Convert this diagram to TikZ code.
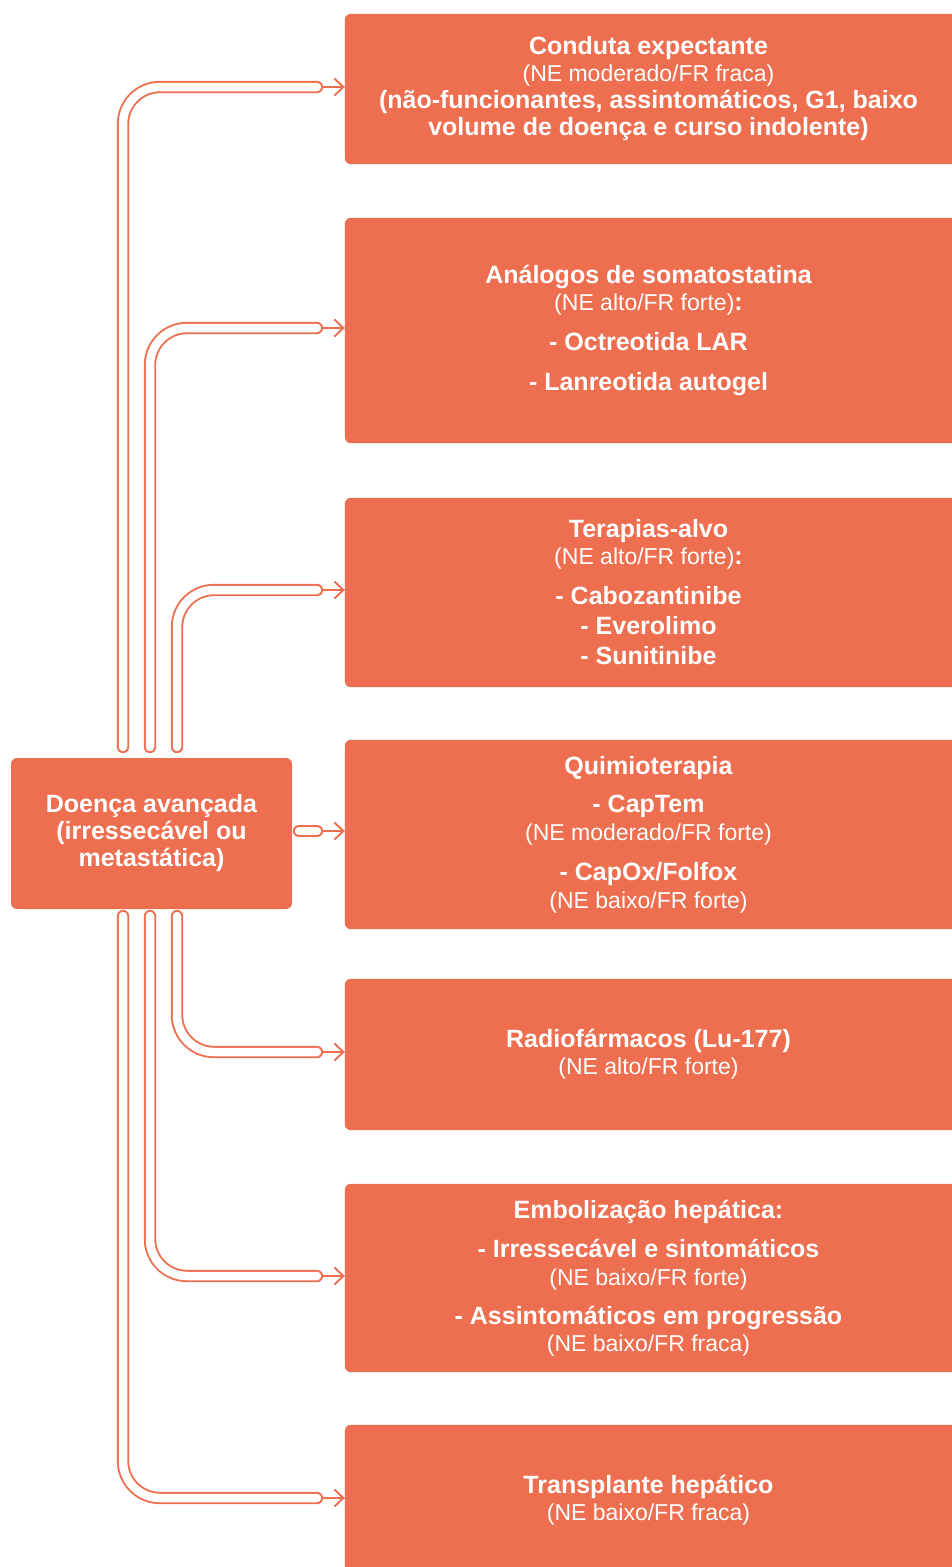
\documentclass[tikz,border=0pt]{standalone}
\usepackage{fontspec}
\setmainfont{Liberation Sans}
\usetikzlibrary{arrows.meta,backgrounds}
\definecolor{accent}{RGB}{238,110,80}
\newcommand{\rg}[1]{{\mdseries\fontsize{23}{27}\selectfont #1}}
\begin{document}
\begin{tikzpicture}[x=1pt,y=-1pt,
  boxtext/.style={minimum width=607pt, align=center, text=white, inner sep=0pt,
    font=\bfseries\fontsize{25}{27}\selectfont},
  leftbox/.style={fill=accent, rounded corners=6pt, minimum width=281pt, minimum height=151pt,
    align=center, text=white, inner sep=0pt, font=\bfseries\fontsize{25}{27}\selectfont},
  tube/.style={draw=accent, line width=1.9pt, double=white, double distance=8.5pt,
    line cap=round, rounded corners=37pt},
  arr/.style={draw=accent, line width=1.9pt, -{Straight Barb[length=9pt,width=17pt]}}]
\path[use as bounding box] (0,0) rectangle (952,1567);
\clip (0,0) rectangle (952,1567);

% boxes
\node[boxtext, minimum height=150pt] (b1) at (648.5,89) {Conduta expectante\\ \rg{(NE moderado/FR fraca)}\\ (não-funcionantes, assintomáticos, G1, baixo\\ volume de doença e curso indolente)};
\node[boxtext, minimum height=225pt] (b2) at (648.5,330.5) {Análogos de somatostatina\\ \rg{(NE alto/FR forte)}:\\[13pt] - Octreotida LAR\\[13pt] - Lanreotida autogel};
\node[boxtext, minimum height=189pt] (b3) at (648.5,592.5) {Terapias-alvo\\ \rg{(NE alto/FR forte)}:\\[13pt] - Cabozantinibe\\[3pt] - Everolimo\\[3pt] - Sunitinibe};
\node[boxtext, minimum height=189pt] (b4) at (648.5,834.5) {Quimioterapia\\[11pt] - CapTem\\[1pt] \rg{(NE moderado/FR forte)}\\[13pt] - CapOx/Folfox\\[1pt] \rg{(NE baixo/FR forte)}};
\node[boxtext, minimum height=151pt] (b5) at (648.5,1054.5) {Radiofármacos (Lu-177)\\ \rg{(NE alto/FR forte)}};
\node[boxtext, minimum height=188pt] (b6) at (648.5,1278) {Embolização hepática:\\[12pt] - Irressecável e sintomáticos\\[1pt] \rg{(NE baixo/FR forte)}\\[12pt] - Assintomáticos em progressão\\ \rg{(NE baixo/FR fraca)}};
\node[boxtext, minimum height=150pt] (b7) at (648.5,1500) {Transplante hepático\\ \rg{(NE baixo/FR fraca)}};

\begin{scope}[on background layer]
  \foreach \b in {b1,b2,b3,b4,b5,b6,b7}
    \fill[accent, rounded corners=6pt] (\b.north west) rectangle ([xshift=20pt]\b.south east);
\end{scope}

\node[leftbox] (lb) at (151.5,833.5) {Doença avançada\\ (irressecável ou\\ metastática)};

% connector coordinates
\coordinate (s1) at (123,747);  \coordinate (e1) at (317,87);
\coordinate (s2) at (150,747);  \coordinate (e2) at (317,328);
\coordinate (s3) at (177,747);  \coordinate (e3) at (317,590);
\coordinate (s4) at (299,831);  \coordinate (e4) at (317,831);
\coordinate (s5) at (177,916);  \coordinate (e5) at (317,1052);
\coordinate (s6) at (150,916);  \coordinate (e6) at (317,1276);
\coordinate (s7) at (123,916);  \coordinate (e7) at (317,1498);

\foreach \i in {1,2,3,5,6,7}
  \draw[tube] (s\i) |- (e\i);
\draw[tube] (s4) -- (e4);

\foreach \i in {1,...,7}
  \draw[arr] ([xshift=6pt]e\i) -- (e\i -| b\i.west);
\end{tikzpicture}
\end{document}
